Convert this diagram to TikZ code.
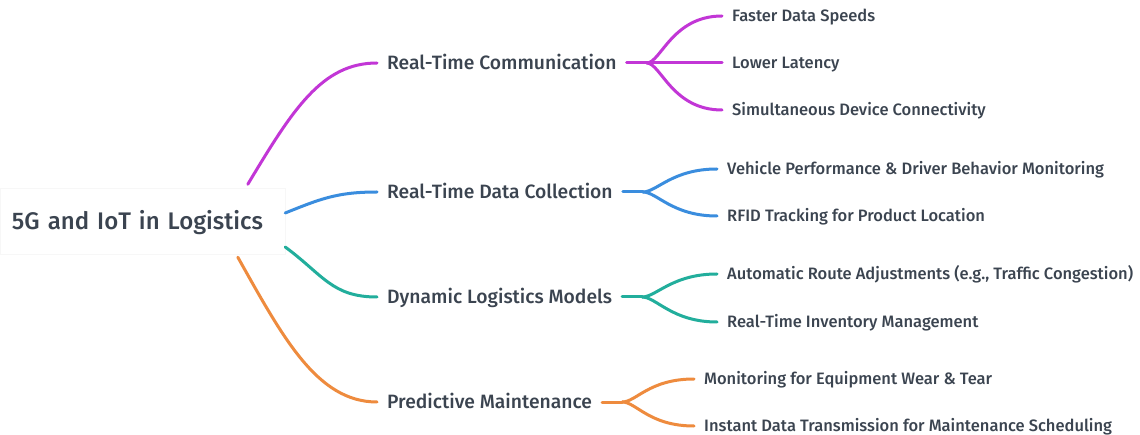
\documentclass[tikz,border=0pt]{standalone}
\usepackage{fontspec}
\setmainfont{Fira Sans}[UprightFont=* Medium]
\usetikzlibrary{calc}
\definecolor{txt}{HTML}{3B4450}
\definecolor{cmag}{HTML}{C236D6}
\definecolor{cblue}{HTML}{3A8DDE}
\definecolor{cteal}{HTML}{22AE9C}
\definecolor{corange}{HTML}{EE8B3E}
\tikzset{
  lvtwo/.style={anchor=west, inner xsep=10pt, inner ysep=0pt, text height=13.4pt, text depth=0pt, text=txt, font=\fontsize{19.3}{22}\selectfont},
  leaf/.style={anchor=west, inner xsep=10pt, inner ysep=0pt, text height=11.5pt, text depth=0pt, text=txt, font=\fontsize{16.5}{19}\selectfont},
  edge/.style={line width=3pt, line cap=round},
}
\begin{document}
\begin{tikzpicture}[x=1pt,y=-1pt]
\useasboundingbox (0,0) rectangle (1140,435);
\fill[white] (0,0) rectangle (1140,435);
% root
\node[draw=black!3, fill=white, minimum width=285pt, minimum height=66pt, inner xsep=12pt, text width=261pt, text height=16.8pt, text depth=0pt, align=left, text=txt, font=\fontsize{24}{26}\selectfont] (root) at (142.5,221.5) {5G and IoT in Logistics};
% level 2
\node[lvtwo] (rtc) at (377,63) {Real-Time Communication};
\node[lvtwo] (rdc) at (377,192) {Real-Time Data Collection};
\node[lvtwo] (dlm) at (377,297) {Dynamic Logistics Models};
\node[lvtwo] (pm)  at (377,402) {Predictive Maintenance};
% leaves
\node[leaf] (f1) at (722,16) {Faster Data Speeds};
\node[leaf] (f2) at (722,63) {Lower Latency};
\node[leaf] (f3) at (722,110) {Simultaneous Device Connectivity};
\node[leaf] (d1) at (717,169) {Vehicle Performance \& Driver Behavior Monitoring};
\node[leaf] (d2) at (717,216) {RFID Tracking for Product Location};
\node[leaf] (m1) at (717,274) {Automatic Route Adjustments (e.g., Traffic Congestion)};
\node[leaf] (m2) at (717,322) {Real-Time Inventory Management};
\node[leaf] (p1) at (694,379) {Monitoring for Equipment Wear \& Tear};
\node[leaf] (p2) at (694,426) {Instant Data Transmission for Maintenance Scheduling};
% root connectors
\coordinate (s1) at ($(root.north west)+(248,-4)$);
\coordinate (s2) at ($(root.east)+(0,-8.5)$);
\coordinate (s3) at ($(root.east)+(0,25.5)$);
\coordinate (s4) at ($(root.south west)+(238,2.5)$);
\draw[edge,cmag] (s1) .. controls +(45,-75) and +(-55,0) .. (rtc.west);
\draw[edge,cblue] (s2) .. controls +(35,-14) and +(-40,0) .. (rdc.west);
\draw[edge,cteal] (s3) .. controls +(38,28) and +(-45,0) .. (dlm.west);
\draw[edge,corange] (s4) .. controls +(45,80) and +(-60,0) .. (pm.west);
% sub connectors
\draw[edge,cmag] (rtc.east) -- ++(20,0) coordinate (j1);
\draw[edge,cmag] (j1) .. controls +(14,0) and +(-50,0) .. (f1.west);
\draw[edge,cmag] (j1) -- (f2.west);
\draw[edge,cmag] (j1) .. controls +(14,0) and +(-50,0) .. (f3.west);
\draw[edge,cblue] (rdc.east) -- ++(20,0) coordinate (j2);
\draw[edge,cblue] (j2) .. controls +(14,0) and +(-45,0) .. (d1.west);
\draw[edge,cblue] (j2) .. controls +(14,0) and +(-45,0) .. (d2.west);
\draw[edge,cteal] (dlm.east) -- ++(20,0) coordinate (j3);
\draw[edge,cteal] (j3) .. controls +(14,0) and +(-45,0) .. (m1.west);
\draw[edge,cteal] (j3) .. controls +(14,0) and +(-45,0) .. (m2.west);
\draw[edge,corange] (pm.east) -- ++(20,0) coordinate (j4);
\draw[edge,corange] (j4) .. controls +(14,0) and +(-45,0) .. (p1.west);
\draw[edge,corange] (j4) .. controls +(14,0) and +(-45,0) .. (p2.west);
\end{tikzpicture}
\end{document}
